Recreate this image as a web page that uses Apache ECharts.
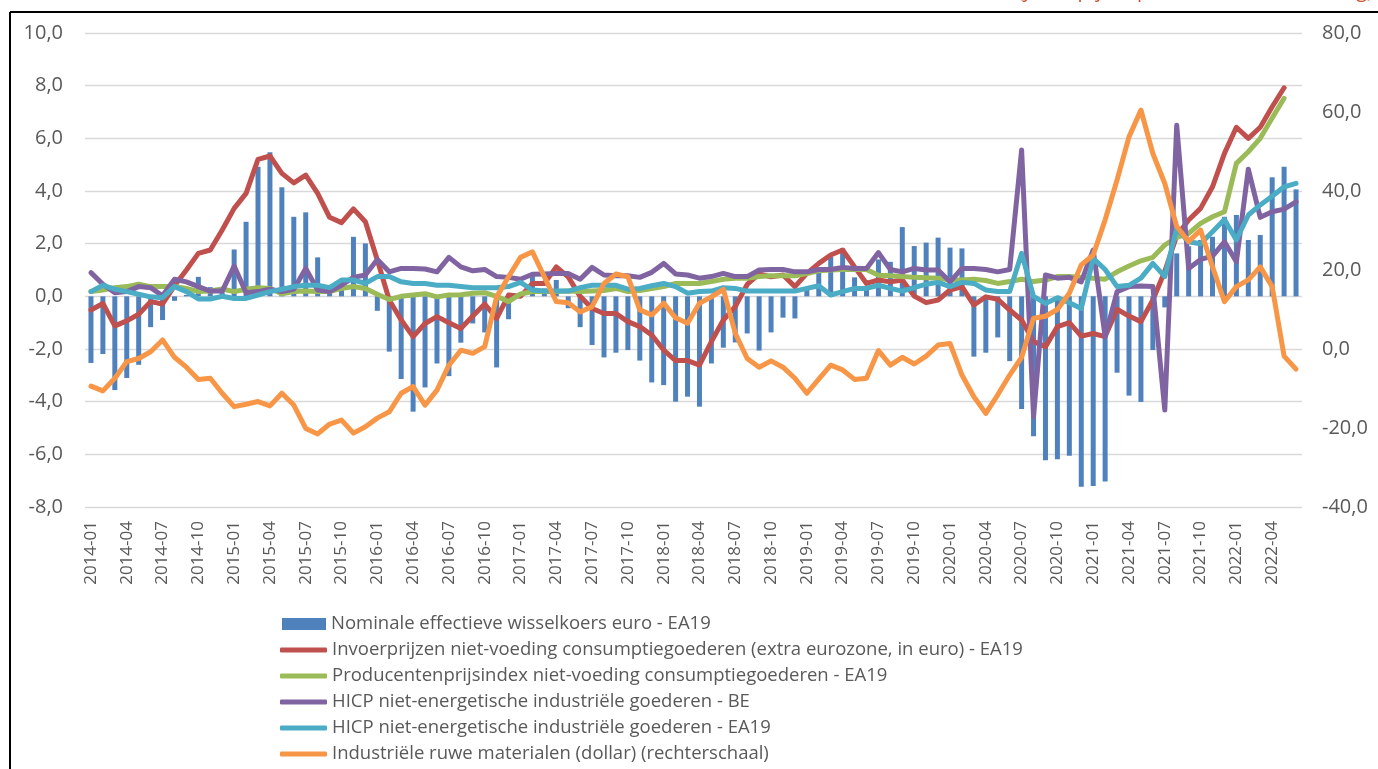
<!DOCTYPE html>
<html>
<head>
<meta charset="utf-8">
<script src="https://cdn.jsdelivr.net/npm/echarts@6/dist/echarts.min.js"></script>
<style>
html,body{margin:0;padding:0;background:#fff;}
#chart{width:1378px;height:769px;}
</style>
</head>
<body>
<div id="chart"></div>
<script>
// Categories: monthly 2014-01 .. 2022-06
const months = [];
for (let y = 2014; y <= 2022; y++) {
  for (let m = 1; m <= 12; m++) {
    if (y === 2022 && m > 6) break;
    months.push(y + '-' + (m < 10 ? '0' + m : m));
  }
}

const seriesNames = [
  'Nominale effectieve wisselkoers euro - EA19',
  'Invoerprijzen niet-voeding consumptiegoederen (extra eurozone, in euro) - EA19',
  'Producentenprijsindex niet-voeding consumptiegoederen - EA19',
  'HICP niet-energetische industriële goederen - BE',
  'HICP niet-energetische industriële goederen - EA19',
  'Industriële ruwe materialen (dollar) (rechterschaal)'
];

const wisselkoers = [
  -2.53,-2.19,-3.56,-3.10,-2.60,-1.17,-0.90,-0.17,0.05,0.74,0.35,0.15,
  1.78,2.83,4.92,5.47,4.14,3.02,3.19,1.48,0.15,0.30,2.26,2.01,
  -0.55,-2.10,-3.14,-4.38,-3.46,-2.55,-3.03,-1.76,-1.03,-1.37,-2.70,-0.87,
  0.10,0.80,0.30,0.62,-0.45,-1.17,-1.85,-2.32,-2.14,-2.04,-2.44,-3.27,
  -3.37,-4.00,-3.81,-4.19,-2.55,-1.95,-1.75,-1.41,-2.06,-1.37,-0.81,-0.84,
  0.24,1.00,1.50,1.82,0.72,0.40,1.40,1.31,2.63,1.91,2.04,2.23,
  1.85,1.82,-2.29,-2.14,-1.56,-2.46,-4.28,-5.31,-6.22,-6.19,-6.05,-7.23,
  -7.20,-7.03,-2.90,-3.77,-4.01,-2.04,-0.42,1.63,1.90,2.14,2.26,3.02,
  3.09,2.14,2.33,4.52,4.92,4.06
];

const invoerprijzen = [
  -0.52,-0.27,-1.12,-0.93,-0.68,-0.20,-0.29,0.40,1.00,1.63,1.76,2.52,
  3.34,3.91,5.20,5.33,4.67,4.31,4.60,3.91,3.00,2.80,3.32,2.83,
  1.38,-0.14,-0.90,-1.53,-1.03,-0.77,-1.00,-1.22,-0.75,-0.29,-0.84,0.05,
  0.00,0.49,0.49,1.12,0.74,0.00,-0.46,-0.65,-0.65,-0.96,-1.15,-1.47,
  -2.04,-2.44,-2.44,-2.61,-1.72,-0.90,-0.39,0.45,0.85,0.74,0.81,0.37,
  0.87,1.25,1.57,1.76,1.12,0.49,0.62,0.55,0.62,0.01,-0.24,-0.14,
  0.24,0.37,-0.33,-0.02,-0.11,-0.52,-0.90,-1.72,-1.91,-1.15,-1.00,-1.51,
  -1.41,-1.53,-0.49,-0.75,-0.96,-0.14,0.95,2.30,2.90,3.34,4.16,5.43,
  6.42,6.00,6.42,7.20,7.92,null
];

const producentenprijs = [
  0.18,0.24,0.33,0.37,0.46,0.37,0.37,0.37,0.30,0.18,0.20,0.28,
  0.18,0.27,0.33,0.30,0.10,0.18,0.20,0.18,0.18,0.30,0.37,0.30,
  0.08,-0.12,0.00,0.05,0.10,-0.02,0.05,0.06,0.12,0.14,0.00,-0.20,
  0.09,0.18,0.18,0.18,0.20,0.18,0.20,0.22,0.30,0.18,0.22,0.30,
  0.37,0.49,0.49,0.49,0.56,0.65,0.69,0.69,0.75,0.78,0.78,0.78,
  0.87,0.97,1.00,1.02,1.02,1.02,0.80,0.78,0.75,0.72,0.71,0.69,
  0.62,0.62,0.65,0.60,0.49,0.56,0.65,0.56,0.62,0.75,0.75,0.72,
  0.69,0.65,0.93,1.15,1.35,1.48,1.95,2.24,2.39,2.77,3.02,3.21,
  5.05,5.49,6.00,6.77,7.52,null
];

const hicpBE = [
  0.90,0.46,0.14,0.18,0.37,0.33,0.02,0.65,0.55,0.37,0.20,0.20,
  1.15,0.14,0.18,0.27,0.18,0.27,1.06,0.24,0.18,0.42,0.72,0.81,
  1.40,0.93,1.06,1.06,1.04,0.93,1.48,1.12,0.97,1.02,0.75,0.72,
  0.65,0.84,0.85,0.87,0.87,0.65,1.10,0.81,0.78,0.78,0.72,0.91,
  1.25,0.85,0.81,0.69,0.75,0.87,0.75,0.75,1.00,1.02,1.02,0.93,
  0.93,1.02,1.02,1.10,1.06,1.06,1.66,1.02,0.93,1.06,1.00,1.00,
  0.55,1.06,1.06,1.02,0.93,1.02,5.56,-4.57,0.81,0.69,0.72,0.55,
  1.76,-1.53,0.18,0.37,0.39,0.37,-4.32,6.50,1.06,1.40,1.53,2.07,
  1.31,4.83,3.00,3.21,3.31,3.59
];

const hicpEA = [
  0.18,0.42,0.27,0.18,0.08,-0.02,-0.05,0.37,0.18,-0.10,-0.10,0.00,
  -0.08,-0.08,0.05,0.18,0.27,0.37,0.42,0.42,0.33,0.62,0.62,0.49,
  0.75,0.75,0.55,0.49,0.49,0.42,0.42,0.37,0.33,0.33,0.33,0.37,
  0.53,0.24,0.20,0.20,0.20,0.33,0.42,0.42,0.42,0.27,0.30,0.40,
  0.49,0.37,0.12,0.18,0.20,0.33,0.30,0.20,0.20,0.20,0.20,0.20,
  0.30,0.40,0.05,0.18,0.30,0.30,0.42,0.30,0.20,0.33,0.46,0.53,
  0.37,0.53,0.49,0.24,0.18,0.18,1.63,0.00,-0.27,-0.05,-0.24,-0.46,
  1.44,1.02,0.37,0.42,0.69,1.25,0.75,2.58,2.07,2.00,2.45,2.92,
  2.14,3.09,3.47,3.80,4.16,4.29
];

const ruweMaterialen = [
  -9.4,-10.6,-7.4,-3.2,-2.4,-0.7,2.3,-2.1,-4.6,-7.7,-7.4,-11.2,
  -14.6,-14.0,-13.3,-14.4,-11.2,-14.2,-20.1,-21.5,-19.0,-18.0,-21.3,-19.7,
  -17.5,-15.9,-11.2,-9.5,-14.2,-10.4,-4.1,-0.3,-1.1,0.6,13.2,18.3,
  23.2,24.6,18.3,12.0,11.7,9.4,10.7,16.6,19.0,18.3,9.9,8.6,
  11.6,7.9,6.5,11.6,13.2,15.1,4.0,-2.4,-4.6,-3.0,-4.6,-7.4,
  -11.2,-7.6,-4.1,-5.3,-7.7,-7.4,-0.4,-4.1,-2.1,-3.8,-1.8,1.0,
  1.4,-6.6,-12.1,-16.3,-11.6,-6.6,-2.1,7.8,8.3,10.0,14.1,21.3,
  23.8,32.7,42.8,53.7,60.5,49.5,41.9,31.0,27.2,30.1,20.8,12.0,
  15.8,17.5,20.8,15.8,-1.8,-5.1
];

const colors = ['#4F81BD','#C0504D','#9BBB59','#8064A2','#4BACC6','#F79646'];
const fmt = v => v.toFixed(1).replace('.', ',');
const FONT = 'Open Sans';
const legendText = { fontFamily: FONT, fontSize: 18.5, color: '#595959', lineHeight: 20, padding: [0, 0, 0, 0] };

function lineSeries(name, data, color, axis) {
  return {
    name: name, type: 'line', data: data, yAxisIndex: axis,
    symbol: 'none', smooth: false,
    lineStyle: { color: color, width: 5, cap: 'round', join: 'round' },
    itemStyle: { color: color },
    emphasis: { disabled: true }
  };
}

const chart = echarts.init(document.getElementById('chart'), null, { renderer: 'canvas' });
chart.setOption({
  animation: false,
  backgroundColor: '#ffffff',
  grid: { left: 85, right: 76, top: 33, bottom: 262, containLabel: false },
  legend: [
    {
      orient: 'vertical', left: 282, top: 614, padding: 0, height: 30,
      itemWidth: 44, itemHeight: 12, itemGap: 6, selectedMode: false,
      textStyle: legendText,
      data: [{ name: seriesNames[0], icon: 'rect' }]
    },
    {
      orient: 'vertical', left: 280, top: 640, padding: 0, height: 140,
      itemWidth: 47, itemHeight: 5, itemGap: 6, selectedMode: false,
      textStyle: legendText,
      data: [
        { name: seriesNames[1], icon: 'roundRect' },
        { name: seriesNames[2], icon: 'roundRect' },
        { name: seriesNames[3], icon: 'roundRect' },
        { name: seriesNames[4], icon: 'roundRect' },
        { name: seriesNames[5], icon: 'roundRect' }
      ]
    }
  ],
  xAxis: {
    type: 'category',
    data: months,
    boundaryGap: true,
    axisLine: { show: false },
    axisTick: { show: false },
    axisLabel: {
      interval: 2, rotate: 90, margin: 14,
      fontFamily: FONT, fontSize: 17, color: '#595959'
    },
    splitLine: { show: false }
  },
  yAxis: [
    {
      type: 'value', min: -8, max: 10, interval: 2,
      axisLine: { show: false }, axisTick: { show: false },
      axisLabel: { formatter: fmt, margin: 22, fontFamily: FONT, fontSize: 20, color: '#595959' },
      splitLine: { show: true, lineStyle: { color: '#D9D9D9', width: 1.3 } }
    },
    {
      type: 'value', min: -40, max: 80, interval: 20,
      axisLine: { show: false }, axisTick: { show: false },
      axisLabel: { formatter: fmt, margin: 20, fontFamily: FONT, fontSize: 20, color: '#595959' },
      splitLine: { show: false }
    }
  ],
  series: [
    {
      name: seriesNames[0], type: 'bar', data: wisselkoers, yAxisIndex: 0,
      barWidth: 5, itemStyle: { color: colors[0] }, emphasis: { disabled: true }
    },
    lineSeries(seriesNames[1], invoerprijzen, colors[1], 0),
    lineSeries(seriesNames[2], producentenprijs, colors[2], 0),
    lineSeries(seriesNames[3], hicpBE, colors[3], 0),
    lineSeries(seriesNames[4], hicpEA, colors[4], 0),
    lineSeries(seriesNames[5], ruweMaterialen, colors[5], 1)
  ],
  graphic: [
    {
      type: 'text', right: 5, top: -19, silent: true,
      style: {
        text: '(jaar-op-jaar procentuele verandering)',
        fill: '#C8502E', font: '20px "Open Sans"'
      }
    },
    {
      type: 'line', silent: true,
      shape: { x1: 10, y1: 12, x2: 1378, y2: 12 },
      style: { stroke: '#000', lineWidth: 2 }
    },
    {
      type: 'line', silent: true,
      shape: { x1: 10, y1: 12, x2: 10, y2: 769 },
      style: { stroke: '#000', lineWidth: 2 }
    }
  ]
});
</script>
</body>
</html>
